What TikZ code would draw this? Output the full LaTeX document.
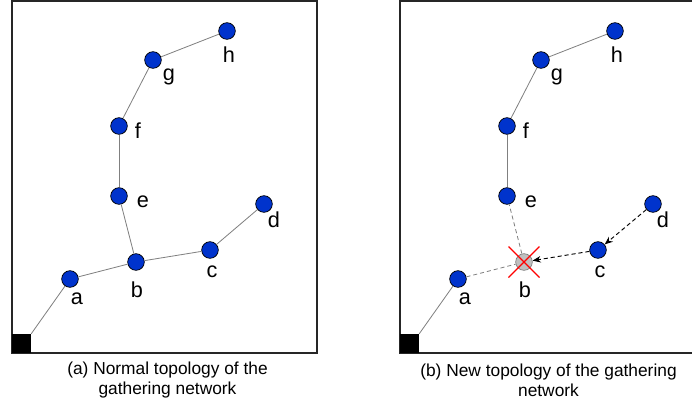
\documentclass[tikz,border=0pt]{standalone}
\usepackage{fontspec}
\setmainfont{Liberation Sans}
\usetikzlibrary{arrows.meta}

\definecolor{nodeblue}{RGB}{0,51,204}
\definecolor{linkgray}{RGB}{128,128,128}
\definecolor{deadgray}{RGB}{192,192,192}

\tikzstyle{sensor} = [circle, draw=black, fill=nodeblue, minimum size=0.5cm, inner sep=0pt, line width=0.6pt]
\tikzstyle{dead} = [circle, draw=linkgray, fill=deadgray, minimum size=0.5cm, inner sep=0pt, line width=0.6pt]
\tikzstyle{sink} = [rectangle, fill=black, minimum size=0.57cm, inner sep=0pt]
\tikzstyle{lbl} = [inner sep=0pt, font=\fontsize{18.5}{20}\selectfont]
\tikzstyle{caption} = [align=center, inner sep=0pt, font=\fontsize{14.8}{17}\selectfont]
\tikzstyle{frame} = [draw=black!85, line width=1.6pt]
\tikzstyle{link} = [draw=linkgray, line width=0.7pt]
\tikzstyle{broken} = [draw=linkgray, line width=0.7pt, dash pattern=on 3.5pt off 2.5pt]
\tikzstyle{reroute} = [draw=black, line width=0.8pt, dash pattern=on 3.5pt off 2.5pt, -{Stealth[length=7pt,width=5.5pt]}]
\tikzstyle{cross} = [draw=red, line width=1pt]

\begin{document}
\begin{tikzpicture}[x=0.03cm, y=-0.03cm]
\clip (0,0) rectangle (692,407);

% (a) normal topology
\draw[frame] (12,1) rectangle (317,353);
\node[sink] (s) at (21.5,343.5) {};
\node[sensor] (a) at (70,279) {};
\node[sensor] (b) at (136,262) {};
\node[sensor] (c) at (210,250) {};
\node[sensor] (d) at (264,204) {};
\node[sensor] (e) at (119,196) {};
\node[sensor] (f) at (119,126) {};
\node[sensor] (g) at (153,60) {};
\node[sensor] (h) at (227,31) {};
\node[lbl] (la) at (77,299) {a};
\node[lbl] (lb) at (137,290) {b};
\node[lbl] (lc) at (212,272) {c};
\node[lbl] (ld) at (274,220) {d};
\node[lbl] (le) at (143,202) {e};
\node[lbl] (lf) at (138,131) {f};
\node[lbl] (lg) at (169,77) {g};
\node[lbl] (lh) at (229,55) {h};
\draw[link] (a) -- (s.north east);
\draw[link] (a) -- (b);
\draw[link] (b) -- (c);
\draw[link] (c) -- (d);
\draw[link] (b) -- (e);
\draw[link] (e) -- (f);
\draw[link] (f) -- (g);
\draw[link] (g) -- (h);
\node[caption] (capa) at (167.5,380) {(a) Normal topology of the\\gathering network};

% (b) new topology after b fails
\draw[frame] (400,1) rectangle (705,353);
\node[sink] (s2) at (409.5,343.5) {};
\node[sensor] (a2) at (458,279) {};
\node[dead] (b2) at (524,262) {};
\node[sensor] (c2) at (598,250) {};
\node[sensor] (d2) at (653,204) {};
\node[sensor] (e2) at (507,196) {};
\node[sensor] (f2) at (507,126) {};
\node[sensor] (g2) at (541,60) {};
\node[sensor] (h2) at (615,31) {};
\node[lbl] (la2) at (465,299) {a};
\node[lbl] (lb2) at (525,290) {b};
\node[lbl] (lc2) at (600,272) {c};
\node[lbl] (ld2) at (663,220) {d};
\node[lbl] (le2) at (531,202) {e};
\node[lbl] (lf2) at (526,131) {f};
\node[lbl] (lg2) at (557,77) {g};
\node[lbl] (lh2) at (617,55) {h};
\draw[link] (a2) -- (s2.north east);
\draw[broken] (a2) -- (b2);
\draw[broken] (b2) -- (e2);
\draw[reroute] (c2) -- (b2);
\draw[reroute] (d2) -- (c2);
\draw[link] (e2) -- (f2);
\draw[link] (f2) -- (g2);
\draw[link] (g2) -- (h2);
\draw[cross] ([shift={(-15.5,-15.5)}]b2.center) -- ([shift={(15.5,15.5)}]b2.center);
\draw[cross] ([shift={(-15.5,15.5)}]b2.center) -- ([shift={(15.5,-15.5)}]b2.center);
\node[caption] (capb) at (548.5,380) {(b) New topology of the gathering\\network};
\end{tikzpicture}
\end{document}
